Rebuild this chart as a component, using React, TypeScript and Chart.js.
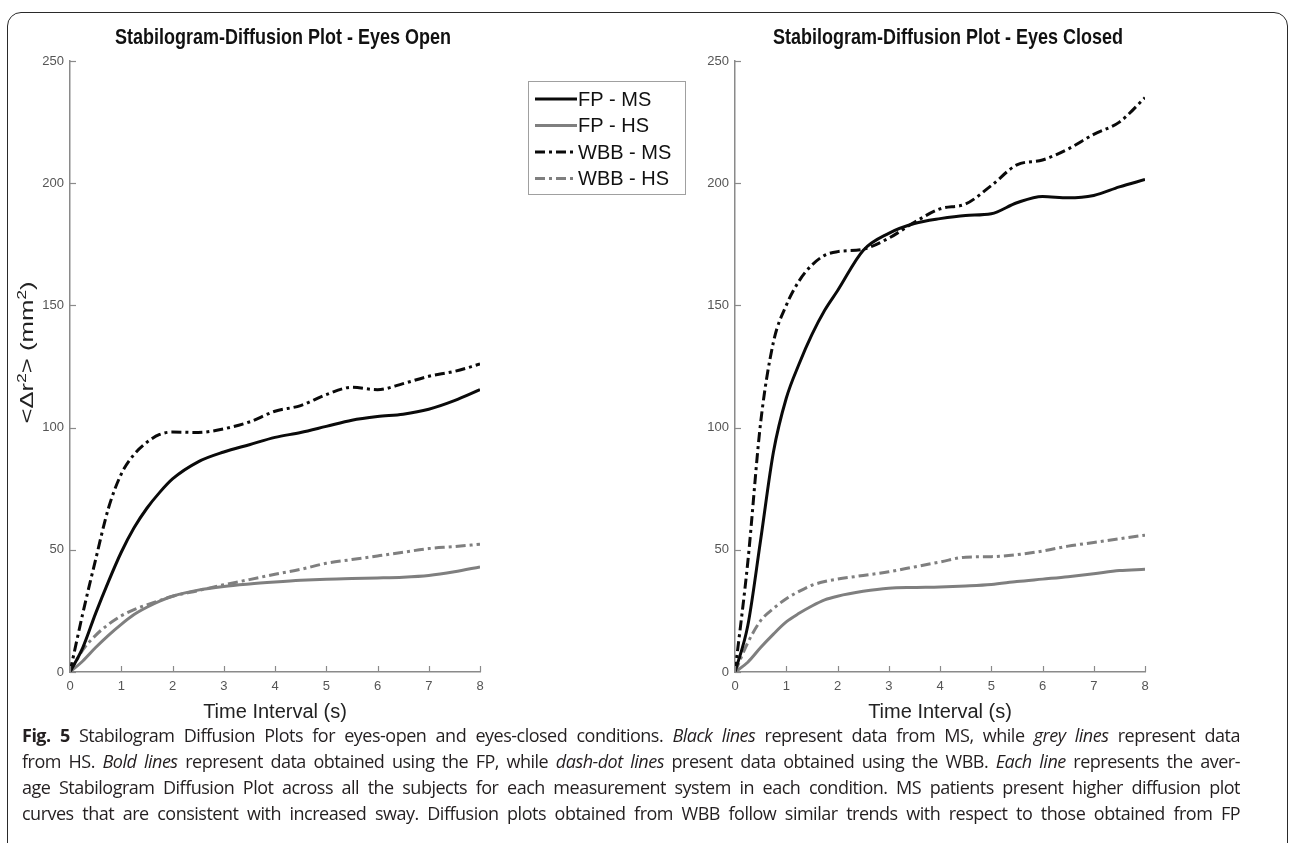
import React, { useEffect, useRef } from "react";
import { Chart, registerables } from "chart.js";

Chart.register(...registerables);

// ---------- data ----------
const timeS = [0, 0.25, 0.5, 0.75, 1, 1.25, 1.5, 1.75, 2, 2.5, 3, 3.5, 4, 4.5, 5, 5.5, 6, 6.5, 7, 7.5, 8];

const seriesLabels = ["FP - MS", "FP - HS", "WBB - MS", "WBB - HS"];

// Eyes open
const openFpMs = [0, 10, 24, 37, 49, 59, 67, 73.5, 79, 86, 90, 93, 96, 98, 100.5, 103, 104.5, 105.5, 107.5, 111, 115.5];
const openFpHs = [0, 4.5, 10, 15, 19.5, 23.5, 26.5, 29, 31, 33.5, 35, 36, 36.8, 37.5, 38, 38.3, 38.5, 38.8, 39.5, 41, 43];
const openWbbMs = [0, 24, 46, 67, 81, 89, 94, 97.2, 98.2, 98, 99.5, 102.3, 106.7, 109, 113.5, 116.5, 115.5, 118, 121, 123, 126];
const openWbbHs = [0, 9, 15, 19.5, 23, 25.5, 27.5, 29.3, 31, 33.3, 35.7, 37.8, 40, 42, 44.5, 46, 47.5, 49, 50.5, 51.3, 52.3];

// Eyes closed
const closedFpMs = [0, 19, 54, 90, 112, 126, 138, 148, 156, 172.5, 179.5, 183.5, 185.5, 186.8, 187.5, 192, 194.6, 194, 195, 198.5, 201.5];
const closedFpHs = [0, 4, 10, 15.5, 20.5, 24, 27, 29.5, 31, 33, 34.3, 34.6, 34.8, 35.2, 35.8, 37, 38, 39, 40.2, 41.5, 42];
const closedWbbMs = [0, 45, 102, 135, 150, 160, 166.5, 170.5, 172, 173, 177.5, 184, 189.5, 191.5, 199, 207.5, 209.5, 214, 220, 225, 235];
const closedWbbHs = [0, 12, 21, 26, 30, 33, 35.5, 37, 38, 39.5, 41, 43, 45, 47, 47.2, 48, 49.5, 51.5, 53, 54.5, 56];

const xTickValues = [0, 1, 2, 3, 4, 5, 6, 7, 8];
const yTickValues = [0, 50, 100, 150, 200, 250];

// y-axis title pieces: [text, isSuperscript]
const yTitleParts: [string, boolean][] = [
  ["<Δr", false],
  ["2", true],
  ["> (mm", false],
  ["2", true],
  [")", false],
];

// ---------- styles ----------
const FONT = "'Liberation Sans', Arial, Helvetica, sans-serif";
const BLACK = "#0a0a0a";
const GREY = "#7f7f7f";
const AXIS = "#8a8a8a";
const DASH_DOT = [10, 4, 3, 4];

const seriesStyles = [
  { color: BLACK, dash: [] as number[] },
  { color: GREY, dash: [] as number[] },
  { color: BLACK, dash: DASH_DOT },
  { color: GREY, dash: DASH_DOT },
];

function makeDatasets(values: number[][]) {
  return values.map((vals, i) => ({
    label: seriesLabels[i],
    data: timeS.map((t, j) => ({ x: t, y: vals[j] })),
    borderColor: seriesStyles[i].color,
    borderDash: seriesStyles[i].dash,
    borderWidth: 3,
    borderCapStyle: "butt",
    borderJoinStyle: "round",
    pointRadius: 0,
    fill: false,
    cubicInterpolationMode: "monotone",
  }));
}

const innerTicksPlugin = {
  id: "innerTicks",
  afterDraw(chart: any) {
    const { ctx, chartArea } = chart;
    const xs = chart.scales.x;
    const ys = chart.scales.y;
    ctx.save();
    ctx.strokeStyle = AXIS;
    ctx.lineWidth = 1.2;
    ctx.setLineDash([]);
    xTickValues.forEach((v) => {
      const px = Math.round(xs.getPixelForValue(v)) + 0.5;
      ctx.beginPath();
      ctx.moveTo(px, chartArea.bottom);
      ctx.lineTo(px, chartArea.bottom - 6);
      ctx.stroke();
    });
    yTickValues.forEach((v) => {
      const py = Math.round(ys.getPixelForValue(v)) + 0.5;
      ctx.beginPath();
      ctx.moveTo(chartArea.left, py);
      ctx.lineTo(chartArea.left + 6, py);
      ctx.stroke();
    });
    ctx.restore();
  },
};

// plot title + rotated y-axis title with real superscripts
const titlesPlugin = {
  id: "plotTitles",
  afterDraw(chart: any) {
    const opts = chart.options.plugins.plotTitles;
    if (!opts) return;
    const { ctx, chartArea } = chart;
    ctx.save();
    ctx.fillStyle = "#111";
    ctx.font = `bold 18px ${FONT}`;
    ctx.textAlign = "center";
    ctx.textBaseline = "middle";
    ctx.translate((chartArea.left + chartArea.right) / 2 + opts.titleShift, opts.titleY);
    ctx.scale(1, 1.2);
    ctx.fillText(opts.text, 0, 0);
    ctx.restore();

    if (opts.yTitle) {
      ctx.save();
      const base = `19px ${FONT}`;
      const sup = `13px ${FONT}`;
      let total = 0;
      yTitleParts.forEach(([t, s]) => {
        ctx.font = s ? sup : base;
        total += ctx.measureText(t).width;
      });
      const cy = (chartArea.top + chartArea.bottom) / 2 + opts.yTitleShift;
      ctx.translate(opts.yTitleX, cy);
      ctx.rotate(-Math.PI / 2);
      ctx.scale(opts.yTitleStretch, 1);
      ctx.textAlign = "left";
      ctx.textBaseline = "alphabetic";
      ctx.fillStyle = "#222";
      let x = -total / 2;
      yTitleParts.forEach(([t, s]) => {
        ctx.font = s ? sup : base;
        ctx.fillText(t, x, s ? -7 : 0);
        x += ctx.measureText(t).width;
      });
      ctx.restore();
    }
  },
};

const boxLegendPlugin = {
  id: "boxLegend",
  afterDraw(chart: any) {
    const opts = chart.options.plugins.boxLegend;
    if (!opts || !opts.display) return;
    const { ctx } = chart;
    ctx.save();
    ctx.fillStyle = "#ffffff";
    ctx.fillRect(opts.x, opts.y, opts.w, opts.h);
    ctx.strokeStyle = "#a0a0a0";
    ctx.lineWidth = 1;
    ctx.setLineDash([]);
    ctx.strokeRect(opts.x + 0.5, opts.y + 0.5, opts.w, opts.h);
    chart.data.datasets.forEach((ds: any, i: number) => {
      const y = opts.y + opts.firstRow + i * opts.rowGap;
      ctx.beginPath();
      ctx.setLineDash(ds.borderDash || []);
      ctx.strokeStyle = ds.borderColor;
      ctx.lineWidth = ds.borderWidth;
      ctx.moveTo(opts.x + 7, y);
      ctx.lineTo(opts.x + 49, y);
      ctx.stroke();
      ctx.setLineDash([]);
      ctx.fillStyle = "#111";
      ctx.font = `20px ${FONT}`;
      ctx.textBaseline = "middle";
      ctx.textAlign = "left";
      ctx.fillText(ds.label, opts.x + 50, y + 1);
    });
    ctx.restore();
  },
};

function makeOptions(cfg: {
  title: string;
  showYTitle: boolean;
  yWidth: number;
  padRight: number;
  legend: boolean;
}) {
  return {
    responsive: false,
    animation: false,
    devicePixelRatio: 1,
    layout: { padding: { left: 0, top: 61, right: cfg.padRight, bottom: 0 } },
    plugins: {
      legend: { display: false },
      tooltip: { enabled: false },
      title: { display: false },
      plotTitles: {
        text: cfg.title,
        titleShift: 8,
        titleY: 38,
        yTitle: cfg.showYTitle,
        yTitleX: 33,
        yTitleShift: -14,
        yTitleStretch: 1.35,
      },
      boxLegend: { display: cfg.legend, x: 528, y: 81, w: 157, h: 113, firstRow: 18, rowGap: 26.5 },
    },
    scales: {
      x: {
        type: "linear",
        min: 0,
        max: 8,
        afterFit: (s: any) => {
          s.height = 63;
        },
        afterBuildTicks: (s: any) => {
          s.ticks = xTickValues.map((v) => ({ value: v }));
        },
        ticks: { color: "#555", font: { family: FONT, size: 13 }, padding: 7, maxRotation: 0 },
        grid: { drawOnChartArea: false, drawTicks: false },
        border: { display: true, color: AXIS, width: 1.5 },
        title: {
          display: true,
          text: "Time Interval (s)",
          color: "#222",
          font: { family: FONT, size: 20 },
          padding: { top: 0, bottom: 11 },
        },
      },
      y: {
        type: "linear",
        min: 0,
        max: 250,
        afterFit: (s: any) => {
          s.width = cfg.yWidth;
        },
        afterBuildTicks: (s: any) => {
          s.ticks = yTickValues.map((v) => ({ value: v }));
        },
        ticks: { color: "#555", font: { family: FONT, size: 13 }, padding: 6 },
        grid: { drawOnChartArea: false, drawTicks: false },
        border: { display: true, color: AXIS, width: 1.5 },
        title: { display: false },
      },
    },
  };
}

function PlotCanvas(props: {
  left: number;
  width: number;
  height: number;
  values: number[][];
  title: string;
  showYTitle: boolean;
  yWidth: number;
  padRight: number;
  legend: boolean;
}) {
  const ref = useRef<HTMLCanvasElement | null>(null);
  useEffect(() => {
    if (!ref.current) return;
    const chart = new Chart(ref.current, {
      type: "line",
      data: { datasets: makeDatasets(props.values) as any },
      options: makeOptions(props) as any,
      plugins: [innerTicksPlugin, titlesPlugin, boxLegendPlugin],
    });
    return () => chart.destroy();
  }, []);
  return (
    <canvas
      ref={ref}
      width={props.width}
      height={props.height}
      style={{ position: "absolute", left: props.left, top: 0, width: props.width, height: props.height }}
    />
  );
}

const lineStyle: React.CSSProperties = { textAlign: "justify", textAlignLast: "justify" as any, whiteSpace: "normal" };

export default function App() {
  return (
    <div
      style={{
        position: "absolute",
        left: 0,
        top: 0,
        width: 1292,
        height: 843,
        overflow: "hidden",
        background: "#fff",
      }}
    >
      <div
        style={{
          position: "absolute",
          left: 7,
          top: 12,
          width: 1281,
          height: 950,
          border: "1.5px solid #2a2a2a",
          borderRadius: 14,
          boxSizing: "border-box",
        }}
      />
      <PlotCanvas
        left={0}
        width={700}
        height={735}
        values={[openFpMs, openFpHs, openWbbMs, openWbbHs]}
        title="Stabilogram-Diffusion Plot - Eyes Open"
        showYTitle={true}
        yWidth={70}
        padRight={220}
        legend={true}
      />
      <PlotCanvas
        left={690}
        width={602}
        height={735}
        values={[closedFpMs, closedFpHs, closedWbbMs, closedWbbHs]}
        title="Stabilogram-Diffusion Plot - Eyes Closed"
        showYTitle={false}
        yWidth={45}
        padRight={147}
        legend={false}
      />
      <div
        style={{
          position: "absolute",
          left: 22,
          top: 722,
          width: 1218,
          fontFamily: "'Open Sans', 'Noto Sans', sans-serif",
          fontSize: 18,
          lineHeight: "26px",
          color: "#231f20",
          letterSpacing: "-0.5px",
        }}
      >
        <div style={lineStyle}>
          <b>Fig. 5</b> Stabilogram Diffusion Plots for eyes-open and eyes-closed conditions. <i>Black lines</i> represent data
          from MS, while <i>grey lines</i> represent data
        </div>
        <div style={lineStyle}>
          from HS. <i>Bold lines</i> represent data obtained using the FP, while <i>dash-dot lines</i> present data obtained
          using the WBB. <i>Each line</i> represents the aver-
        </div>
        <div style={lineStyle}>
          age Stabilogram Diffusion Plot across all the subjects for each measurement system in each condition. MS patients
          present higher diffusion plot
        </div>
        <div style={lineStyle}>
          curves that are consistent with increased sway. Diffusion plots obtained from WBB follow similar trends with respect
          to those obtained from FP
        </div>
      </div>
    </div>
  );
}
